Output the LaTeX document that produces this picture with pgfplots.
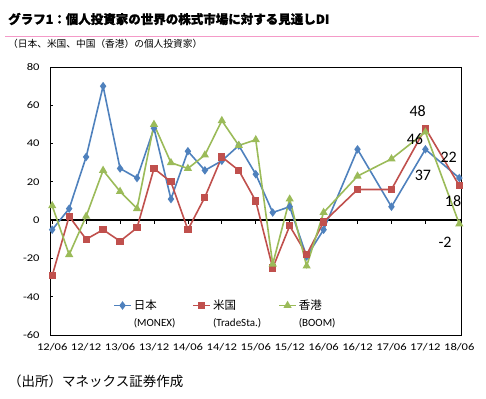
\documentclass[border=0pt]{standalone}
\usepackage{fontspec}
\setmainfont{Carlito}
\newfontfamily\jp{Noto Sans CJK JP}
\newfontfamily\jpbold{Noto Sans CJK JP}[BoldFeatures={FakeBold=1.2}]
\usepackage{pgfplots}
\pgfplotsset{compat=1.18}
\definecolor{cblue}{RGB}{79,129,189}
\definecolor{cred}{RGB}{192,80,77}
\definecolor{cgreen}{RGB}{155,187,89}
\definecolor{cpink}{RGB}{244,154,200}
\begin{document}
\begin{tikzpicture}[x=1pt,y=1pt]
\path[use as bounding box] (0,0) rectangle (486,398);
\node[anchor=west,inner sep=0] at (8,379) {\fontsize{12.5}{14}\selectfont\jpbold\bfseries グラフ1：個人投資家の世界の株式市場に対する見通しDI};
\draw[cpink,line width=1.5pt] (5,361.3) -- (479,361.3);
\node[anchor=west,inner sep=0] at (8,354) {\fontsize{9.7}{11}\selectfont\jp （日本、米国、中国（香港）の個人投資家）};
\node[anchor=west,inner sep=0] at (8,16.5) {\fontsize{13.5}{15}\selectfont\jp （出所）マネックス証券作成};
\begin{axis}[
  at={(50pt,63pt)}, anchor=south west,
  scale only axis, width=411pt, height=268pt,
  xmin=-0.13, xmax=24.1, ymin=-60, ymax=80,
  ytick={-60,-40,...,80},
  xtick={0,2,...,24},
  xticklabels={12/06,12/12,13/06,13/12,14/06,14/12,15/06,15/12,16/06,16/12,17/06,17/12,18/06},
  axis line style={black, line width=0.8pt},
  ytick pos=left,
  tick align=inside,
  major tick length=3pt,
  x tick style={draw=none},
  y tick style={black, line width=0.8pt},
  tick label style={font=\fontsize{10.3}{12}\selectfont, xscale=1.22},
  yticklabel style={xshift=-5pt},
  xticklabel style={yshift=-5pt},
  /pgf/number format/assume math mode=true,
  clip=false,
  legend style={draw=none, fill=none, at={(0.146,0.157)}, anchor=north west,
    legend columns=3, cells={anchor=base west},
    font=\fontsize{11}{17}\selectfont,
    /tikz/every even column/.append style={column sep=15pt}},
  legend image post style={yshift=3.5pt},
]
\draw[black, line width=1.5pt] (axis cs:-0.13,0) -- (axis cs:24.1,0);
\foreach \i in {0,2,4,6,8,10,12,14,16,18,20,22,24}{
  \edef\temp{\noexpand\draw[black,line width=0.8pt] (axis cs:\i,0) -- ([yshift=-4pt]axis cs:\i,0);}
  \temp
}
\addplot[cblue, line width=1.6pt, mark=diamond*, mark size=3pt, mark options={solid}] coordinates {
(0,-5)(1,6)(2,33)(3,70)(4,27)(5,22)(6,48)(7,11)(8,36)(9,26)(10,31)(11,39)(12,24)(13,4)(14,7)(15,-19)(16,-5)(18,37)(20,7)(22,37)(24,22)};
\addlegendentry{\begin{tabular}[t]{@{}l@{}}{\fontsize{11.5}{17}\selectfont\jp 日本}\\(MONEX)\end{tabular}}
\addplot[cred, line width=1.6pt, mark=square*, mark size=2.8pt, mark options={solid}] coordinates {
(0,-29)(1,2)(2,-10)(3,-5)(4,-11)(5,-4)(6,27)(7,20)(8,-5)(9,12)(10,33)(11,26)(12,10)(13,-25)(14,-3)(15,-18)(16,-1)(18,16)(20,16)(22,48)(24,18)};
\addlegendentry{\begin{tabular}[t]{@{}l@{}}{\fontsize{11.5}{17}\selectfont\jp 米国}\\(TradeSta.)\end{tabular}}
\addplot[cgreen, line width=1.6pt, mark=triangle*, mark size=3.2pt, mark options={solid}] coordinates {
(0,7.5)(1,-18)(2,2)(3,26)(4,15)(5,6)(6,50)(7,30)(8,27)(9,34)(10,52)(11,39)(12,42)(13,-23)(14,11)(15,-24)(16,4)(18,23)(20,32)(22,46)(24,-2)};
\addlegendentry{\begin{tabular}[t]{@{}l@{}}{\fontsize{11.5}{17}\selectfont\jp 香港}\\(BOOM)\end{tabular}}
\node[font=\fontsize{16}{18}\selectfont, xshift=-7.7pt, yshift=17pt] at (axis cs:22,48) {48};
\node[font=\fontsize{16}{18}\selectfont, xshift=-10.4pt, yshift=-6.6pt] at (axis cs:22,46) {46};
\node[font=\fontsize{16}{18}\selectfont, xshift=-2.4pt, yshift=-26.4pt] at (axis cs:22,37) {37};
\node[font=\fontsize{16}{18}\selectfont, xshift=-10.6pt, yshift=20.6pt] at (axis cs:24,22) {22};
\node[font=\fontsize{16}{18}\selectfont, xshift=-6.3pt, yshift=-15.1pt] at (axis cs:24,18) {18};
\node[font=\fontsize{16}{18}\selectfont, xshift=-14.3pt, yshift=-18.6pt] at (axis cs:24,-2) {-2};
\end{axis}
\end{tikzpicture}
\end{document}
